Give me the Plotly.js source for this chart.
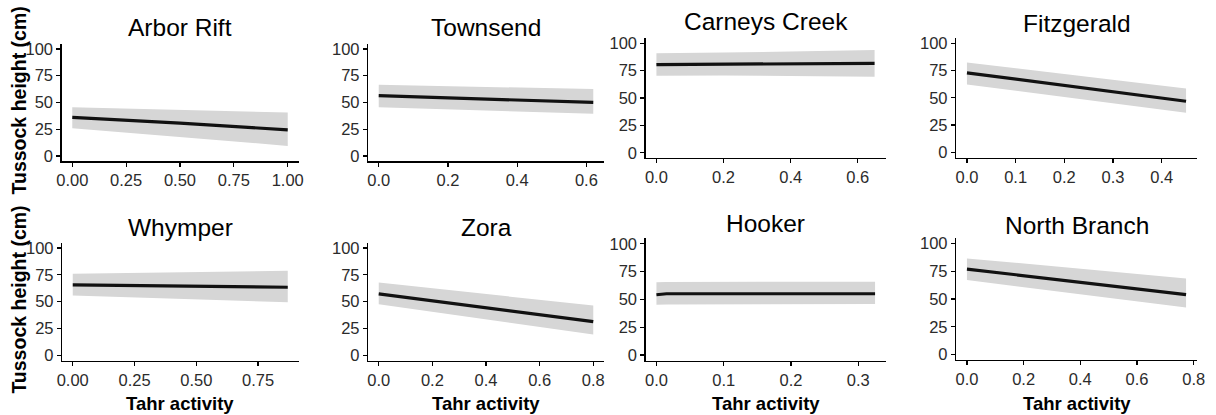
<!DOCTYPE html>
<html>
<head>
<meta charset="utf-8">
<script src="https://cdn.plot.ly/plotly-3.0.1.min.js"></script>
<style>
  html, body { margin: 0; padding: 0; background: #fff; }
  #chart { width: 1216px; height: 415px; }
</style>
</head>
<body>
<div id="chart"></div>
<script>
// ---- Data ----
const sites = ["Arbor Rift", "Townsend", "Carneys Creek", "Fitzgerald",
               "Whymper", "Zora", "Hooker", "North Branch"];

// Tahr activity (x) sample points per site
const activity = [
  [0, 0.5, 1.0],
  [0, 0.31, 0.62],
  [0, 0.2, 0.65],
  [0, 0.225, 0.45],
  [0, 0.27, 0.72, 0.87],
  [0, 0.4, 0.8],
  [0, 0.015, 0.325],
  [0, 0.39, 0.773]
];
// fitted tussock height (cm)
const fitted = [
  [36.0, 30.6, 24.4],
  [56.3, 53.1, 50.0],
  [80.5, 81.0, 81.7],
  [72.9, 60.0, 46.8],
  [65.6, 64.8, 63.8, 63.4],
  [57.2, 44.5, 31.3],
  [54.2, 55.1, 55.1],
  [76.9, 65.5, 54.0]
];
// lower confidence bound
const lower = [
  [26.0, 18.0, 9.4],
  [45.6, 42.5, 39.4],
  [70.4, 70.6, 69.5],
  [62.2, 49.5, 36.3],
  [55.6, 53.5, 50.5, 49.4],
  [47.5, 33.5, 19.4],
  [45.2, 45.4, 45.8],
  [67.0, 54.7, 42.3]
];
// upper confidence bound
const upper = [
  [45.6, 43.1, 40.6],
  [66.6, 64.5, 62.5],
  [90.9, 91.5, 93.9],
  [82.5, 70.5, 58.5],
  [75.9, 76.6, 78.0, 78.8],
  [67.8, 57.0, 46.3],
  [65.4, 65.6, 66.0],
  [86.5, 77.5, 68.5]
];
// x tick labels per panel
const xTicks = [
  [0, 0.25, 0.5, 0.75, 1.0],
  [0, 0.2, 0.4, 0.6],
  [0, 0.2, 0.4, 0.6],
  [0, 0.1, 0.2, 0.3, 0.4],
  [0, 0.25, 0.5, 0.75],
  [0, 0.2, 0.4, 0.6, 0.8],
  [0, 0.1, 0.2, 0.3],
  [0, 0.2, 0.4, 0.6, 0.8]
];
const xTickDigits = [2, 1, 1, 1, 2, 1, 1, 1];
const yTicks = [0, 25, 50, 75, 100];
const yTitle = "Tussock height (cm)";
const xTitle = "Tahr activity";

// ---- Layout geometry (pixels) ----
const W = 1216, H = 415;
// [left, right, top, bottom] plot boxes
const boxes = [
  [61.5, 298.5, 43.6, 161.3],
  [368, 604, 43.6, 161.3],
  [645.5, 885.5, 37.8, 158.2],
  [956, 1197, 37.9, 157.6],
  [62, 298.5, 242.6, 360.6],
  [368, 604, 242.6, 360.6],
  [645.5, 886, 238.3, 360.5],
  [956, 1197, 237.8, 360.2]
];
const titleY = [27.5, 27, 22, 23.5, 227.5, 227, 223.5, 225.5];

const FONT = '"Liberation Sans", Arial, sans-serif';
const ribbonColor = 'rgb(214,214,214)';

const traces = [];
const layout = {
  width: W, height: H,
  margin: {l: 0, r: 0, t: 0, b: 0},
  paper_bgcolor: '#fff', plot_bgcolor: '#fff',
  showlegend: false,
  font: {family: FONT, color: '#000'},
  annotations: []
};

for (let i = 0; i < sites.length; i++) {
  const n = i + 1;
  const xa = n === 1 ? 'x' : 'x' + n;
  const ya = n === 1 ? 'y' : 'y' + n;
  const xs = activity[i];
  const D = Math.max(...xs);
  // ribbon
  traces.push({
    type: 'scatter', mode: 'lines',
    x: xs.concat(xs.slice().reverse()),
    y: upper[i].concat(lower[i].slice().reverse()),
    fill: 'toself', fillcolor: ribbonColor,
    line: {width: 0, color: ribbonColor},
    xaxis: xa, yaxis: ya, hoverinfo: 'skip'
  });
  // fitted line
  traces.push({
    type: 'scatter', mode: 'lines',
    x: xs, y: fitted[i],
    line: {width: 3.2, color: '#111'},
    xaxis: xa, yaxis: ya, hoverinfo: 'skip'
  });

  const [L, R, T, B] = boxes[i];
  const axCommon = {
    showline: true, linecolor: '#000', linewidth: 1.2,
    ticks: 'outside', ticklen: 4, tickwidth: 1.2, tickcolor: '#000',
    showgrid: false, zeroline: false,
    tickfont: {family: FONT, size: 16.5, color: '#2b2b2b'},
    fixedrange: true
  };
  layout[n === 1 ? 'xaxis' : 'xaxis' + n] = Object.assign({}, axCommon, {
    domain: [L / W, R / W],
    range: [-0.05 * D, 1.05 * D],
    tickmode: 'array',
    tickvals: xTicks[i],
    ticktext: xTicks[i].map(v => v.toFixed(xTickDigits[i])),
    anchor: ya
  });
  layout[n === 1 ? 'yaxis' : 'yaxis' + n] = Object.assign({}, axCommon, {
    domain: [1 - B / H, 1 - T / H],
    range: [-5, 105],
    tickmode: 'array',
    tickvals: yTicks,
    ticktext: yTicks.map(String),
    anchor: xa
  });

  // panel title
  layout.annotations.push({
    text: sites[i], xref: 'paper', yref: 'paper',
    x: ((L + R) / 2) / W, y: 1 - titleY[i] / H,
    xanchor: 'center', yanchor: 'middle', showarrow: false,
    font: {family: FONT, size: 24.5, color: '#000'}
  });
  // x axis title for bottom row
  if (i >= 4) {
    layout.annotations.push({
      text: '<b>' + xTitle + '</b>', xref: 'paper', yref: 'paper',
      x: ((L + R) / 2) / W, y: 1 - 403 / H,
      xanchor: 'center', yanchor: 'middle', showarrow: false,
      font: {family: FONT, size: 18.5, color: '#000'}
    });
  }
  // y axis title for left column
  if (i === 0 || i === 4) {
    layout.annotations.push({
      text: '<b>' + yTitle + '</b>', xref: 'paper', yref: 'paper',
      x: 19 / W, y: 1 - ((T + B) / 2 - 2) / H,
      xanchor: 'center', yanchor: 'middle', showarrow: false, textangle: -90,
      font: {family: FONT, size: 19.5, color: '#000'}
    });
  }
}

Plotly.newPlot('chart', traces, layout, {staticPlot: true, displayModeBar: false});
</script>
</body>
</html>
